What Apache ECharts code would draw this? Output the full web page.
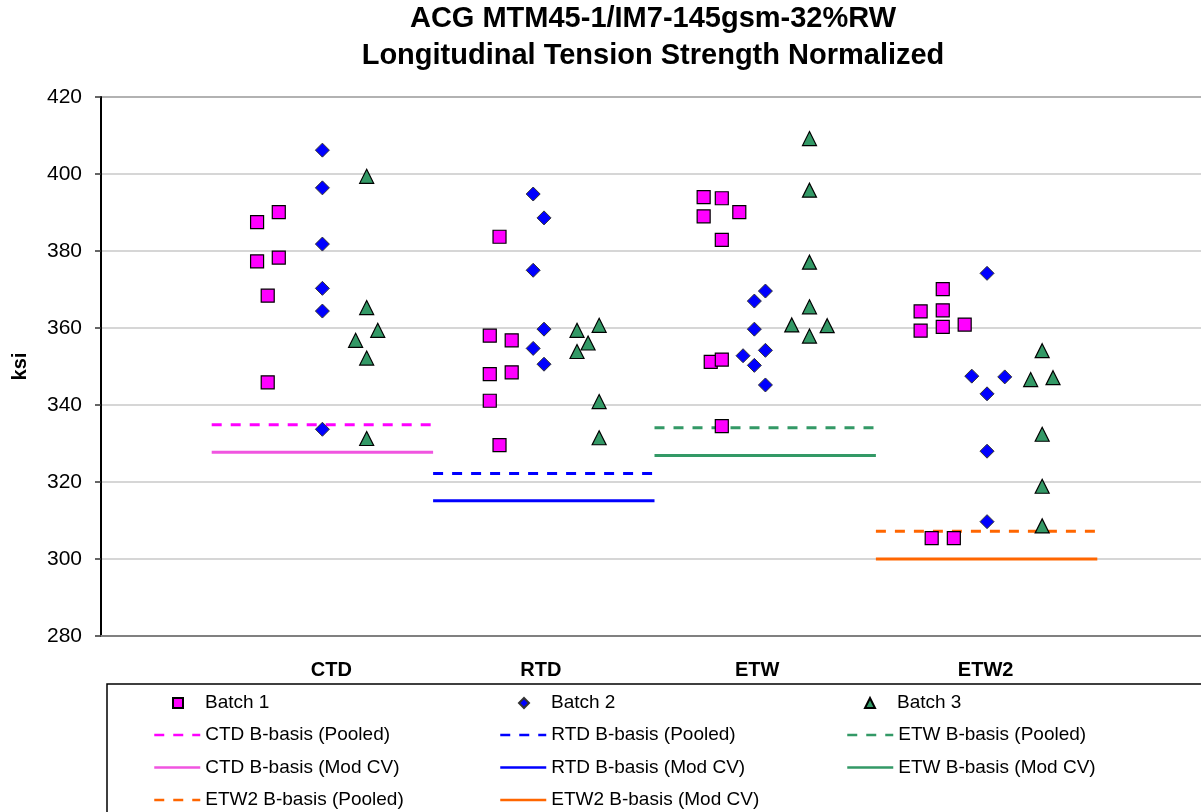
<!DOCTYPE html>
<html>
<head>
<meta charset="utf-8">
<script src="https://cdn.jsdelivr.net/npm/echarts@6/dist/echarts.min.js"></script>
<style>
  html, body { margin: 0; padding: 0; background: #fff; }
  #main { width: 1201px; height: 812px; }
</style>
</head>
<body>
<div id="main"></div>
<script>
// conditions, one basis line pair each
var categories = ['CTD', 'RTD', 'ETW', 'ETW2'];
var pooledBasis = [334.9, 322.2, 334.1, 307.2];
var modCvBasis = [327.7, 315.1, 326.9, 300.0];

// scatter x positions (jittered around the condition index) and values, ksi
var batch1X = [0.705, 0.803, 0.705, 0.803, 0.753, 0.753,
               1.80, 1.756, 1.855, 1.756, 1.855, 1.756, 1.80,
               2.722, 2.804, 2.883, 2.722, 2.804, 2.754, 2.804, 2.804,
               3.802, 3.702, 3.802, 3.901, 3.702, 3.802, 3.752, 3.852];
var batch1Y = [387.5, 390.1, 377.3, 378.3, 368.4, 345.9,
               383.7, 358.0, 356.8, 348.0, 348.5, 341.1, 329.6,
               394.0, 393.7, 390.1, 389.0, 382.9, 351.2, 351.8, 334.5,
               370.1, 364.3, 364.6, 360.9, 359.3, 360.3, 305.4, 305.4];

var batch2X = [1.0, 1.0, 1.0, 1.0, 1.0, 1.0,
               1.952, 2.001, 1.952, 2.001, 1.952, 2.001,
               3.001, 2.951, 2.951, 2.900, 3.001, 2.951, 3.001,
               4.002, 3.933, 4.082, 4.002, 4.002, 4.002];
var batch2Y = [406.2, 396.4, 381.8, 370.3, 364.4, 333.7,
               394.8, 388.6, 375.0, 359.7, 354.7, 350.6,
               369.6, 367.0, 359.7, 352.8, 354.2, 350.3, 345.2,
               374.2, 347.5, 347.3, 342.9, 328.0, 309.7];

var batch3X = [1.2, 1.2, 1.25, 1.15, 1.2, 1.2,
               2.15, 2.25, 2.20, 2.15, 2.25, 2.25,
               3.2, 3.2, 3.2, 3.2, 3.12, 3.28, 3.2,
               4.251, 4.199, 4.300, 4.251, 4.251, 4.251];
var batch3Y = [399.4, 365.3, 359.4, 356.8, 352.2, 331.3,
               359.4, 360.7, 356.1, 353.9, 340.9, 331.5,
               409.2, 395.8, 377.1, 365.5, 360.8, 360.6, 357.9,
               354.1, 346.6, 347.1, 332.4, 318.9, 308.6];

var yTicks = [280, 300, 320, 340, 360, 380, 400, 420];

var pooledColors = ['#ff00ff', '#0000ff', '#339966', '#ff6600'];
var modCvColors = ['#f055e0', '#0000ff', '#339966', '#ff6600'];
// the category captions sit a little off their positions in the original
var labelShift = [9, -3, -8, -1];

var FONT = 'Liberation Sans, Arial, sans-serif';

function pairs(xs, ys) {
    var out = [];
    for (var i = 0; i < xs.length; i++) {
        out.push([xs[i], ys[i]]);
    }
    return out;
}

var chart = echarts.init(document.getElementById('main'));

var series = [
    {
        name: 'Batch 1', type: 'scatter', z: 5,
        symbol: 'rect', symbolSize: 13,
        itemStyle: { color: '#ff00ff', borderColor: '#000', borderWidth: 1.2, opacity: 1 },
        data: pairs(batch1X, batch1Y)
    },
    {
        name: 'Batch 2', type: 'scatter', z: 5,
        symbol: 'diamond', symbolSize: 14,
        itemStyle: { color: '#0000ff', borderColor: '#333', borderWidth: 1, opacity: 1 },
        data: pairs(batch2X, batch2Y)
    },
    {
        name: 'Batch 3', type: 'scatter', z: 5,
        symbol: 'triangle', symbolSize: 14,
        itemStyle: { color: '#339966', borderColor: '#000', borderWidth: 1.2, opacity: 1 },
        data: pairs(batch3X, batch3Y)
    }
];

// basis lines span one unit around each condition
for (var i = 0; i < categories.length; i++) {
    series.push({
        name: categories[i] + ' B-basis (Pooled)', type: 'line', z: 2,
        symbol: 'none', silent: true,
        lineStyle: { color: pooledColors[i], width: 3, type: [10, 9] },
        itemStyle: { color: pooledColors[i] },
        data: [[i + 0.5, pooledBasis[i]], [i + 1.5, pooledBasis[i]]]
    });
    series.push({
        name: categories[i] + ' B-basis (Mod CV)', type: 'line', z: 2,
        symbol: 'none', silent: true,
        lineStyle: { color: modCvColors[i], width: 3, type: 'solid' },
        itemStyle: { color: modCvColors[i] },
        data: [[i + 0.5, modCvBasis[i]], [i + 1.5, modCvBasis[i]]]
    });
}

var legendText = { color: '#000', fontSize: 19, fontFamily: FONT, lineHeight: 22 };
var batchText = { color: '#000', fontSize: 19, fontFamily: FONT, lineHeight: 22, padding: [0, 0, 0, 17] };

function batchLegend(name, left) {
    return {
        data: [name], left: left, top: 692, orient: 'horizontal',
        itemWidth: 10, itemHeight: 10, padding: 0,
        selectedMode: false, textStyle: batchText
    };
}

function lineLegend(names, left) {
    return {
        data: names, left: left, top: 724, orient: 'vertical',
        itemWidth: 46, itemHeight: 10, itemGap: 10.5, padding: 0,
        itemStyle: { opacity: 0 },
        lineStyle: { width: 2.5 },
        selectedMode: false, textStyle: legendText
    };
}

var richLabels = {};
for (var k = 0; k < categories.length; k++) {
    var s = labelShift[k];
    richLabels['c' + k] = {
        fontFamily: FONT, fontSize: 20, fontWeight: 'bold', color: '#000',
        padding: s >= 0 ? [0, 0, 0, 2 * s] : [0, -2 * s, 0, 0]
    };
}

chart.setOption({
    animation: false,
    backgroundColor: '#fff',
    title: {
        text: 'ACG MTM45-1/IM7-145gsm-32%RW\nLongitudinal Tension Strength Normalized',
        left: 653, top: 0, textAlign: 'center', padding: 0,
        textStyle: { fontFamily: FONT, fontSize: 29, fontWeight: 'bold', color: '#000', lineHeight: 37 }
    },
    legend: [
        batchLegend('Batch 1', 172),
        batchLegend('Batch 2', 518),
        batchLegend('Batch 3', 864),
        lineLegend(['CTD B-basis (Pooled)', 'CTD B-basis (Mod CV)', 'ETW2 B-basis (Pooled)'], 153),
        lineLegend(['RTD B-basis (Pooled)', 'RTD B-basis (Mod CV)', 'ETW2 B-basis (Mod CV)'], 499),
        lineLegend(['ETW B-basis (Pooled)', 'ETW B-basis (Mod CV)'], 846)
    ],
    grid: { left: 101, top: 97, width: 1107, height: 539, outerBoundsMode: 'none', containLabel: false },
    xAxis: {
        type: 'value', min: 0, max: 5, interval: 1,
        axisLine: { show: true, onZero: false, lineStyle: { color: '#808080', width: 2 } },
        axisTick: { show: false },
        splitLine: { show: false },
        axisLabel: {
            margin: 24, color: '#000', fontFamily: FONT, fontSize: 20, fontWeight: 'bold',
            rich: richLabels,
            formatter: function (v) {
                var k = Math.round(v) - 1;
                return (k >= 0 && k < categories.length) ? '{c' + k + '|' + categories[k] + '}' : '';
            }
        }
    },
    yAxis: {
        type: 'value', min: yTicks[0], max: yTicks[yTicks.length - 1], interval: 20,
        name: 'ksi', nameLocation: 'middle', nameGap: 71,
        nameTextStyle: { fontFamily: FONT, fontSize: 20, fontWeight: 'bold', color: '#000' },
        axisLine: { show: true, lineStyle: { color: '#000', width: 2 } },
        axisTick: { show: true, length: 6, lineStyle: { color: '#333', width: 1.5 } },
        axisLabel: { margin: 19, color: '#000', fontFamily: FONT, fontSize: 21 },
        splitLine: {
            show: true,
            lineStyle: { color: ['#999', '#c8c8c8', '#c8c8c8', '#c8c8c8', '#c8c8c8', '#c8c8c8', '#c8c8c8', '#999'], width: 1.5 }
        }
    },
    graphic: [{
        type: 'rect', z: -1, silent: true,
        shape: { x: 107, y: 684, width: 1110, height: 140 },
        style: { fill: 'none', stroke: '#000', lineWidth: 1.5 }
    }],
    series: series
});
</script>
</body>
</html>
